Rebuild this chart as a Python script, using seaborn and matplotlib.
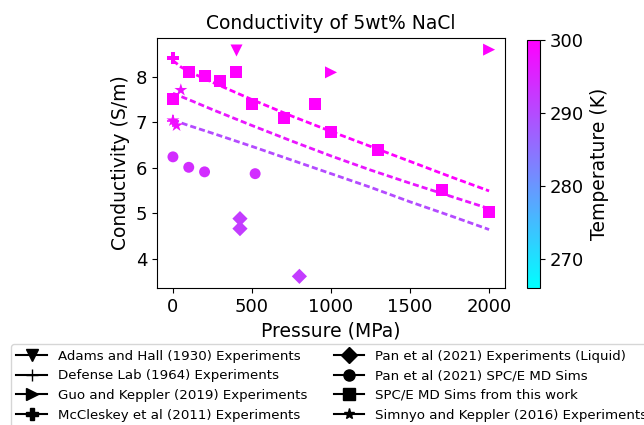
import matplotlib
matplotlib.use("Agg")
import matplotlib.pyplot as plt
from matplotlib.lines import Line2D
import matplotlib as mpl
import numpy as np
import pandas as pd
import seaborn as sns

plt.rcParams['font.family'] = ['DejaVu Sans']

# ---- data ----
adams_p = [400]; adams_c = [8.6]; adams_t = [300]
defense_p = [0]; defense_c = [7.02]; defense_t = [298]
guo_p = [1000, 2000]; guo_c = [8.1, 8.6]; guo_t = [300, 300]
mccl_p = [0]; mccl_c = [8.41]; mccl_t = [300]
panexp_p = [424, 424, 800]; panexp_c = [4.88, 4.66, 3.61]; panexp_t = [292, 292, 292]
pansim_p = [0, 100, 200, 520]; pansim_c = [6.24, 6.01, 5.91, 5.87]; pansim_t = [294, 294, 294, 294]
spce_p = [0, 100, 200, 300, 400, 500, 700, 900, 1000, 1300, 1700, 2000]
spce_c = [7.52, 8.10, 8.02, 7.92, 8.10, 7.40, 7.09, 7.40, 6.78, 6.40, 5.52, 5.02]
spce_t = [300] * 12
simnyo_p = [50, 0, 23]; simnyo_c = [7.71, 7.04, 6.93]; simnyo_t = [298, 298, 298]

fit_p = [0, 50, 100, 250, 500, 750, 1000, 1250, 1500, 1750, 2000]
fit_hi = [8.36, 8.22, 8.12, 7.88, 7.50, 7.14, 6.80, 6.47, 6.14, 5.81, 5.49]
fit_mid = [7.64, 7.57, 7.50, 7.28, 6.93, 6.59, 6.26, 5.95, 5.66, 5.38, 5.10]
fit_lo = [7.05, 6.99, 6.93, 6.76, 6.47, 6.17, 5.87, 5.57, 5.25, 4.95, 4.64]
fit_temps = [300, 297, 290]

tmin, tmax = 266, 300
cmap = plt.get_cmap('cool')
norm = mpl.colors.Normalize(vmin=tmin, vmax=tmax)

fig = plt.figure(figsize=(6.44, 4.25), dpi=100)
ax = fig.add_axes([0.244, 0.322, 0.540, 0.589])
cax = fig.add_axes([0.818, 0.322, 0.021, 0.584])

for ys, t in zip([fit_hi, fit_mid, fit_lo], fit_temps):
    df = pd.DataFrame({'p': fit_p, 'c': ys})
    sns.lineplot(data=df, x='p', y='c', ax=ax, color=cmap(norm(t)),
                 linestyle=(0, (2.2, 1.1)), linewidth=2, zorder=1)

sets = [
    (adams_p, adams_c, adams_t, 'v', 'Adams and Hall (1930) Experiments', 75),
    (defense_p, defense_c, defense_t, '+', 'Defense Lab (1964) Experiments', 70),
    (guo_p, guo_c, guo_t, '>', 'Guo and Keppler (2019) Experiments', 75),
    (mccl_p, mccl_c, mccl_t, 'P', 'McCleskey et al (2011) Experiments', 75),
    (panexp_p, panexp_c, panexp_t, 'D', 'Pan et al (2021) Experiments (Liquid)', 60),
    (pansim_p, pansim_c, pansim_t, 'o', 'Pan et al (2021) SPC/E MD Sims', 62),
    (spce_p, spce_c, spce_t, 's', 'SPC/E MD Sims from this work', 75),
    (simnyo_p, simnyo_c, simnyo_t, '*', 'Simnyo and Keppler (2016) Experiments', 95),
]
handles = []
for p, c, t, m, lab, s in sets:
    df = pd.DataFrame({'p': p, 'c': c, 't': t})
    sns.scatterplot(data=df, x='p', y='c', hue='t', palette='cool',
                    hue_norm=(tmin, tmax), marker=m, s=s, ax=ax,
                    legend=False, linewidth=(1.2 if m == '+' else 0), zorder=3)
    handles.append(Line2D([0], [0], color='black', marker=m, markersize=8,
                          label=lab))

ax.set_xlim(-100, 2100)
ax.set_ylim(3.35, 8.86)
ax.set_xticks([0, 500, 1000, 1500, 2000])
ax.set_yticks([4, 5, 6, 7, 8])
ax.tick_params(labelsize=13)
ax.set_xlabel('Pressure (MPa)', fontsize=13.5)
ax.set_ylabel('Conductivity (S/m)', fontsize=13.5)
ax.set_title('Conductivity of 5wt% NaCl', fontsize=13.5)

sm = mpl.cm.ScalarMappable(norm=norm, cmap=cmap)
cb = fig.colorbar(sm, cax=cax)
cb.set_ticks([270, 280, 290, 300])
cb.ax.tick_params(labelsize=13)
cb.set_label('Temperature (K)', fontsize=13.5)

fig.legend(handles=handles, loc='upper left', bbox_to_anchor=(0.017, 0.19),
           ncol=2, fontsize=9.6, borderaxespad=0, handlelength=2.3)

fig.savefig('out.png', dpi=100)
